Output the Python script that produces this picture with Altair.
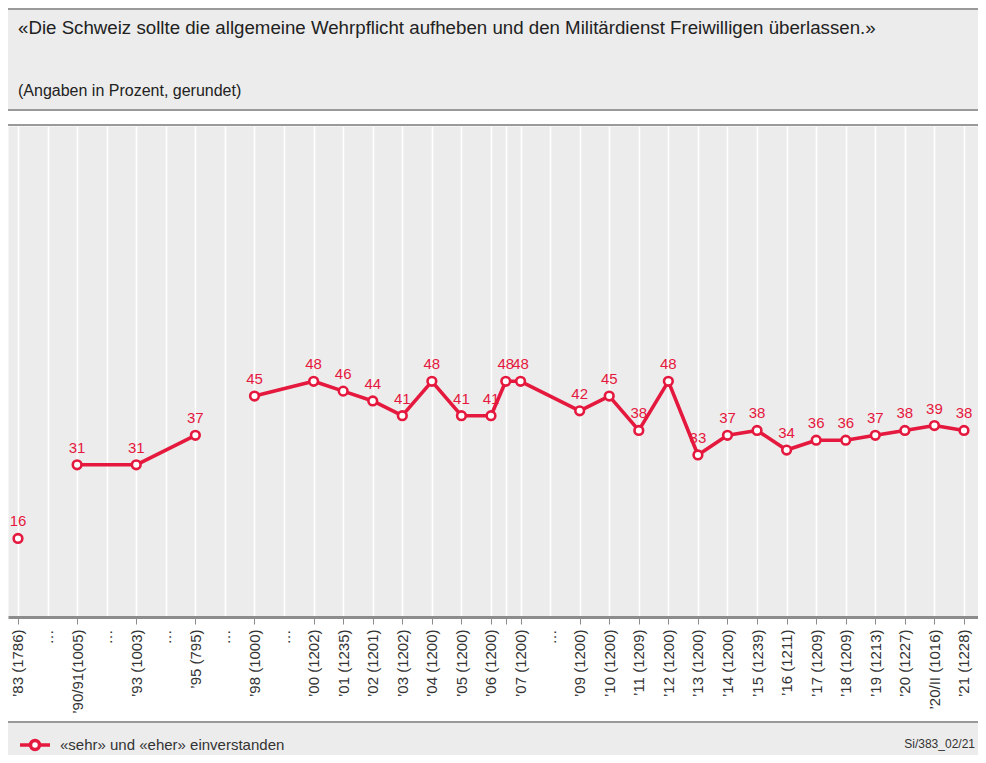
import json
import altair as alt
import pandas as pd

RED = "#e5183e"
GRAY_BG = "#ececec"
LINE_GRAY = "#9a9a9a"
TEXT = "#333333"
FONT = "Liberation Sans"

title_text = "«Die Schweiz sollte die allgemeine Wehrpflicht aufheben und den Militärdienst Freiwilligen überlassen.»"
subtitle_text = "(Angaben in Prozent, gerundet)"
series_name = "«sehr» und «eher» einverstanden"
source_text = "Si/383_02/21"

axis_labels = [
    "’83 (1786)", "…", "’90/91(1005)", "…", "’93 (1003)", "…", "’95 (795)", "…",
    "’98 (1000)", "…", "’00 (1202)", "’01 (1235)", "’02 (1201)", "’03 (1202)",
    "’04 (1200)", "’05 (1200)", "’06 (1200)", "", "’07 (1200)", "…",
    "’09 (1200)", "’10 (1200)", "’11 (1209)", "’12 (1200)", "’13 (1200)",
    "’14 (1200)", "’15 (1239)", "’16 (1211)", "’17 (1209)", "’18 (1209)",
    "’19 (1213)", "’20 (1227)", "’20/II (1016)", "’21 (1228)",
]
values = [
    16, None, 31, None, 31, None, 37, None,
    45, None, 48, 46, 44, 41,
    48, 41, 41, 48, 48, None,
    42, 45, 38, 48, 33,
    37, 38, 34, 36, 36,
    37, 38, 39, 38,
]
segment_starts = ["’90/91(1005)", "’98 (1000)"]

# slot positions along the axis (an unlabeled extra survey sits half-way)
positions = []
p = 0.0
for i, lab in enumerate(axis_labels):
    if i > 0:
        p += 0.5 if (lab == "" or axis_labels[i - 1] == "") else 1.0
    positions.append(int(p) if p == int(p) else p)

rows = []
seg = 0
for lab, pos, v in zip(axis_labels, positions, values):
    if lab in segment_starts:
        seg += 1
    if v is None:
        continue
    rows.append({"pos": pos, "value": v, "label": str(v), "seg": seg, "series": series_name})
df = pd.DataFrame(rows)

label_arr = [""] * (int(max(positions) * 2) + 1)
for lab, pos in zip(axis_labels, positions):
    label_arr[int(round(pos * 2))] = lab
label_expr = json.dumps(label_arr, ensure_ascii=False) + "[round(datum.value*2)]"
dot_pos = [pos for lab, pos in zip(axis_labels, positions) if lab == "…"]
dot_test = "indexof(" + json.dumps(dot_pos) + ", datum.value) >= 0"

W = 970
x_scale = alt.Scale(domain=[-0.338, 32.474], nice=False, zero=False)
y_scale = alt.Scale(domain=[0, 100], nice=False)

x_axis = alt.Axis(
    values=positions,
    labelExpr=label_expr,
    labelAngle=-90,
    labelAlign="right",
    labelBaseline="middle",
    labelFont=FONT,
    labelFontSize=15,
    labelColor=TEXT,
    labelPadding=5,
    labelOverlap=False,
    labelFlush=False,
    labelBound=False,
    ticks=True,
    tickSize=7,
    tickColor="#8c8c8c",
    tickWidth=1,
    tickOpacity={"condition": {"test": dot_test, "value": 0}, "value": 1},
    domain=True,
    domainColor="#8c8c8c",
    domainWidth=3,
    grid=True,
    gridColor="white",
    gridWidth=1.6,
    gridOpacity=1,
    title=None,
)

one = pd.DataFrame({"k": [0]})

bands = alt.Chart(one).mark_rect(color=GRAY_BG).encode(
    x=alt.value(0), x2=alt.value(W), y=alt.value(-118), y2=alt.value(-16)
)
footer_band = alt.Chart(one).mark_rect(color=GRAY_BG).encode(
    x=alt.value(0), x2=alt.value(W), y=alt.value(597), y2=alt.value(640)
)


def hline(yv):
    return alt.Chart(one).mark_rule(color=LINE_GRAY, strokeWidth=2).encode(
        x=alt.value(0), x2=alt.value(W), y=alt.value(yv)
    )


rules = hline(-117) + hline(-16) + hline(-1) + hline(596)

title = alt.Chart(one).mark_text(
    text=title_text, align="left", baseline="alphabetic", font=FONT, fontSize=18.7, color="#222222"
).encode(x=alt.value(10), y=alt.value(-92))
subtitle = alt.Chart(one).mark_text(
    text=subtitle_text, align="left", baseline="alphabetic", font=FONT, fontSize=16, color="#222222"
).encode(x=alt.value(10), y=alt.value(-30))
source = alt.Chart(one).mark_text(
    text=source_text, align="right", baseline="middle", font=FONT, fontSize=12, color=TEXT
).encode(x=alt.value(967), y=alt.value(618))

base = alt.Chart(df).encode(
    x=alt.X("pos:Q", scale=x_scale, axis=x_axis),
    y=alt.Y("value:Q", scale=y_scale, axis=None),
)

sym_path = "M-1,0H-0.3M0.3,0H1M-0.3,0A0.3,0.3,0,1,0,0.3,0A0.3,0.3,0,1,0,-0.3,0Z"

line = base.mark_line(strokeWidth=3.6, strokeJoin="round").encode(
    color=alt.Color(
        "series:N",
        scale=alt.Scale(range=[RED]),
        legend=alt.Legend(
            title=None,
            orient="none",
            legendX=10,
            legendY=602,
            padding=0,
            symbolType=sym_path,
            symbolSize=900,
            symbolStrokeWidth=3.5,
            symbolFillColor="white",
            symbolStrokeColor=RED,
            labelFont=FONT,
            labelFontSize=15,
            labelColor=TEXT,
            labelOffset=8,
            labelLimit=500,
        ),
    ),
    detail="seg:N",
)

points = base.mark_point(
    filled=True, fill="white", stroke=RED, strokeWidth=2.6, size=75, opacity=1, shape="circle"
)

labels = base.mark_text(
    dy=-12, font=FONT, fontSize=15, color=RED, baseline="alphabetic", align="center"
).encode(text="label:N")

chart = (
    alt.layer(bands, footer_band, rules, title, subtitle, source, line, points, labels)
    .properties(
        width=W,
        height=491,
        autosize=alt.AutoSizeParams(type="none"),
        padding={"left": 0, "top": 118, "right": 0, "bottom": 138},
        background="white",
    )
    .configure_view(fill=GRAY_BG, stroke="transparent")
)

chart.save("out.html", embed_options={"renderer": "svg", "actions": False})
